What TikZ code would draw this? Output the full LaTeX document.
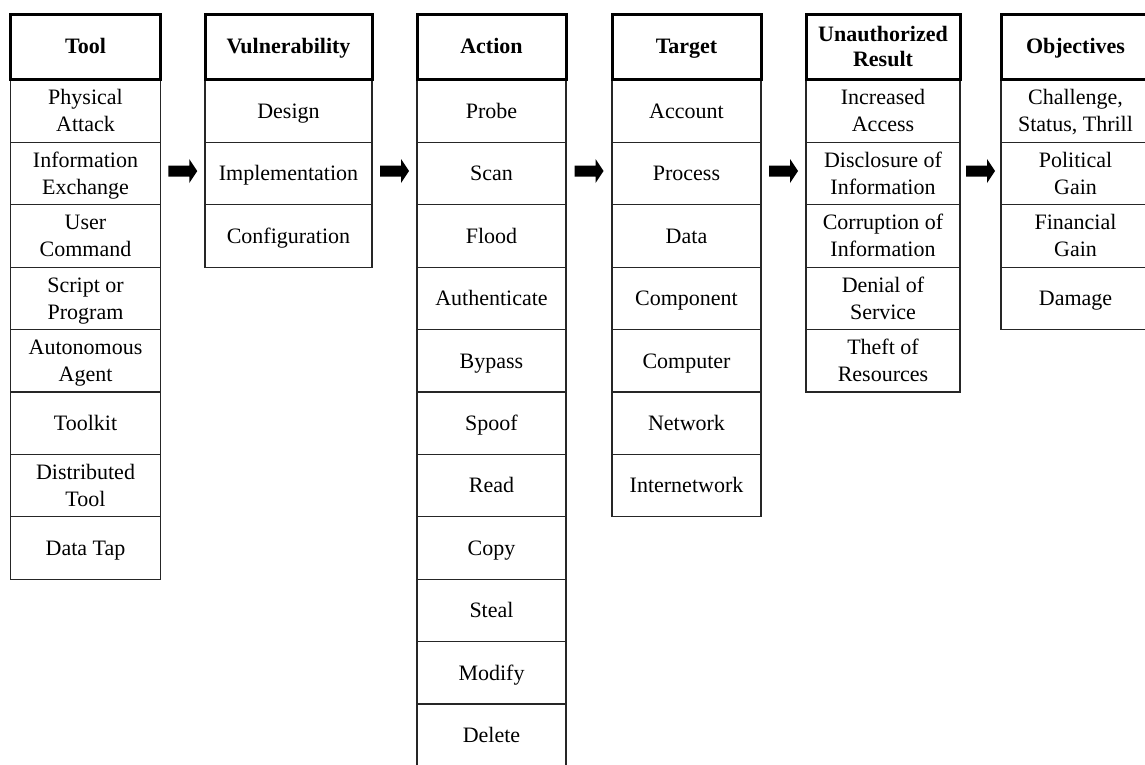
\documentclass[tikz,border=0pt]{standalone}
\usepackage{fontspec}
\setmainfont{Liberation Serif}
\usetikzlibrary{calc}
\newcommand\topst{\rule{0pt}{19.5pt}}
\newcommand\botst{\rule[-5pt]{0pt}{5pt}}
\tikzset{
  hdr/.style={draw=black, line width=3pt, fill=white, minimum height=65.3pt, inner sep=0pt,
    align=center, font=\fontsize{22}{25}\selectfont\bfseries},
  cell/.style={draw=black!85, line width=1.1pt, minimum height=62.4pt, inner sep=0pt,
    align=center, font=\fontsize{22}{27}\selectfont},
  blockarr/.pic={\fill[black] (-14.5,-5.5) -- (6.5,-5.5) -- (6.5,-12) -- (14.5,0)
    -- (6.5,12) -- (6.5,5.5) -- (-14.5,5.5) -- cycle;}
}
\newcommand\mkcol[5]{%
  \foreach \t [count=\i] in {#5} {
    \node[cell, minimum width=#3] (#1-\i) at (#2, {111.2+62.4*(\i-1)}) {\topst\t\botst};
  }
  \node[hdr, minimum width=#3] (#1-h) at (#2, 46.7) {\topst#4\botst};
}
\begin{document}
\begin{tikzpicture}[x=1pt,y=-1pt]
\useasboundingbox (0,0) rectangle (1145,764);
\clip (0,0) rectangle (1145,764);
\fill[white] (0,0) rectangle (1145,764);

\mkcol{tool}{85.5}{150}{Tool}{{Physical\\Attack},{Information\\Exchange},{User\\Command},{Script or\\Program},{Autonomous\\Agent},Toolkit,{Distributed\\Tool},Data Tap}
\mkcol{vul}{288.5}{167}{Vulnerability}{Design,Implementation,Configuration}
\mkcol{act}{491.5}{149}{Action}{Probe,Scan,Flood,Authenticate,Bypass,Spoof,Read,Copy,Steal,Modify,Delete}
\mkcol{tgt}{686.5}{149}{Target}{Account,Process,Data,Component,Computer,Network,Internetwork}
\mkcol{res}{883}{154}{Unauthorized\\Result}{{Increased\\Access},{Disclosure of\\Information},{Corruption of\\Information},{Denial of\\Service},{Theft of\\Resources}}
\mkcol{obj}{1075.5}{149}{Objectives}{{Challenge,\\Status, Thrill},{Political\\Gain},{Financial\\Gain},Damage}

\coordinate (a1) at ($(tool-2.east)!0.5!(vul-2.west)+(0,-2.6)$);
\coordinate (a2) at ($(vul-2.east)!0.5!(act-2.west)+(0,-2.6)$);
\coordinate (a3) at ($(act-2.east)!0.5!(tgt-2.west)+(0,-2.6)$);
\coordinate (a4) at ($(tgt-2.east)!0.5!(res-2.west)+(0,-2.6)$);
\coordinate (a5) at ($(res-2.east)!0.5!(obj-2.west)+(0,-2.6)$);
\foreach \a in {a1,a2,a3,a4,a5} { \pic at (\a) {blockarr}; }
\end{tikzpicture}
\end{document}
